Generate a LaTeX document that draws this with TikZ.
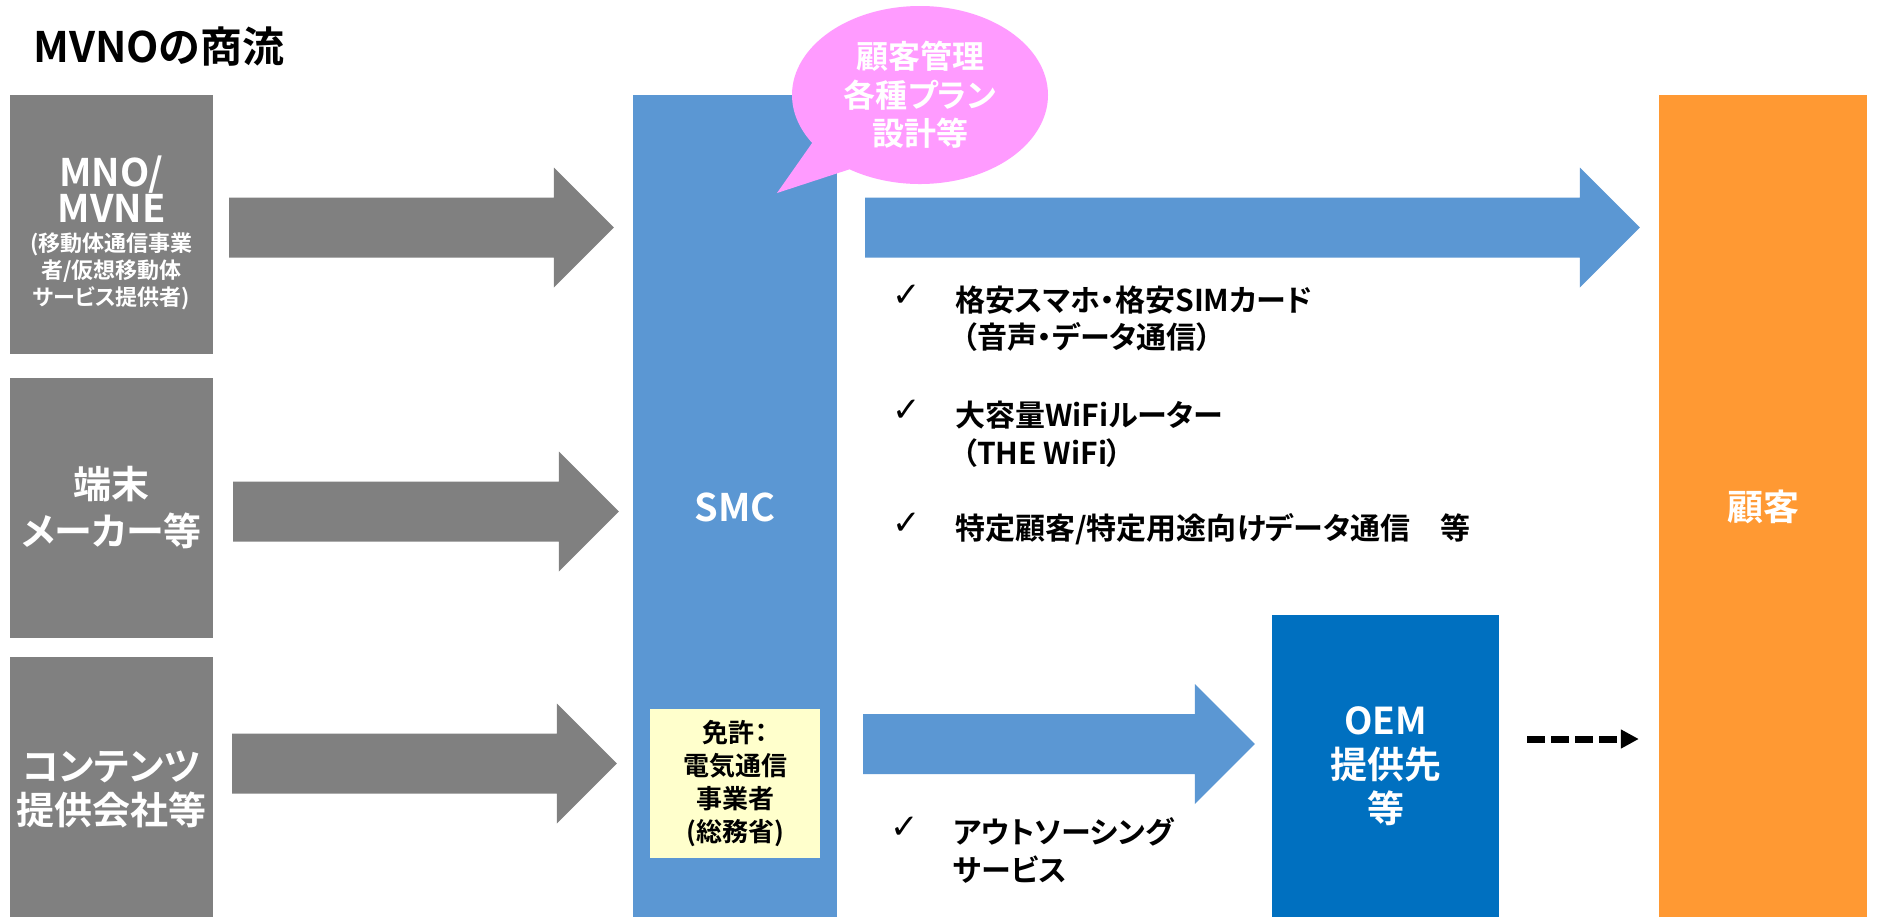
\documentclass[tikz,border=0pt]{standalone}
\usepackage{fontspec}
\setmainfont{Noto Sans CJK JP}[BoldFont={Noto Sans CJK JP Bold},RawFeature=+palt]
\newfontfamily\checkfont{DejaVu Sans}
\usetikzlibrary{calc,shapes.callouts,arrows.meta}

\definecolor{boxgray}{RGB}{128,128,128}
\definecolor{smcblue}{RGB}{91,151,211}
\definecolor{oemblue}{RGB}{0,112,192}
\definecolor{custorange}{RGB}{255,153,51}
\definecolor{bubblepink}{RGB}{255,155,255}
\definecolor{licyellow}{RGB}{255,255,204}

\newcommand{\jfs}[2]{\fontsize{#1}{#2}\selectfont\bfseries}
% block arrow: colour, start, tip (same height)
\newcommand{\fatarrow}[3]{%
  \fill[#1] ($(#2)+(0,-30)$) -- ($(#3)+(-60,-30)$) -- ($(#3)+(-60,-60)$) -- (#3)
    -- ($(#3)+(-60,60)$) -- ($(#3)+(-60,30)$) -- ($(#2)+(0,30)$) -- cycle;}

\tikzset{
  sidebox/.style={fill=boxgray, minimum width=203pt, inner sep=0pt, text=white, align=center},
  bar/.style={minimum height=824pt, inner sep=0pt, text=white, align=center},
  wtext/.style={inner sep=0pt, text=white, align=center},
  item/.style={anchor=base west, inner sep=0pt, font=\jfs{30}{37}},
  tick/.style={inner sep=0pt, font={\checkfont\fontsize{34}{34}\selectfont}},
  dasharrow/.style={line width=7pt, dash pattern=on 18pt off 6pt, -{Triangle[length=18pt,width=18pt]}}
}

\begin{document}
\begin{tikzpicture}[x=1pt, y=-1pt]
  \path[use as bounding box, fill=white] (0,0) rectangle (1877,916);

  \node[anchor=base west, inner sep=0pt, font=\jfs{42}{42}] (title) at (33,62) {MVNOの商流};

  % left side
  \node[sidebox, minimum height=259pt] (mno) at (111.5,224.5) {};
  \node[wtext, font=\jfs{38}{35}] (mnoname) at (111.5,189.5) {MNO/\\MVNE};
  \node[wtext, font=\jfs{22}{27}] (mnonote) at (111.5,271.5) {(移動体通信事業\\者/仮想移動体\\サービス提供者)};
  \node[sidebox, minimum height=260pt, font=\jfs{38}{47}] (maker) at (111.5,508) {端末\\メーカー等};
  \node[sidebox, minimum height=264pt, font=\jfs{38}{44}] (content) at (111.5,789) {コンテンツ\\提供会社等};

  % SMC and licence
  \node[bar, fill=smcblue, minimum width=204pt, font=\jfs{38}{44}] (smc) at (735,507) {SMC};
  \node[fill=licyellow, minimum width=170pt, minimum height=149pt, inner sep=0pt,
        align=center, font=\jfs{26}{33}] (lic) at (735,783.5) {免許：\\電気通信\\事業者\\(総務省)};
  \node[ellipse callout, fill=bubblepink, minimum width=256pt, minimum height=178pt, inner sep=0pt,
        callout absolute pointer={(777,193)}, callout pointer arc=24,
        text=white, align=center, font=\jfs{32}{38.5}] (bubble) at (920,95) {顧客管理\\各種プラン\\設計等};

  % right side
  \node[bar, fill=custorange, minimum width=208pt, font=\jfs{36}{40}] (cust) at (1763,507) {顧客};
  \node[fill=oemblue, minimum width=227pt, minimum height=302pt, inner sep=0pt, text=white,
        align=center, font=\jfs{37}{44}] (oem) at (1385.5,766) {OEM\\提供先\\等};

  % gray arrows into SMC
  \foreach \src/\dx/\dy/\dt in {mno/16/3/19, maker/20/3.5/14, content/19/-25.5/16} {
    \coordinate (\src0) at ($(\src.east)+(\dx,\dy)$);
    \coordinate (\src1) at ($(\src0 -| smc.west)+(-\dt,0)$);
    \fatarrow{boxgray}{\src0}{\src1}
  }

  % blue arrows out of SMC
  \coordinate (sale0) at ($(smc.east |- mno0)+(28,0)$);
  \coordinate (sale1) at ($(sale0 -| cust.west)+(-19,0)$);
  \fatarrow{smcblue}{sale0}{sale1}
  \coordinate (oem0) at ($(smc.east |- oem.center)+(26,-22)$);
  \coordinate (oem1) at ($(oem0 -| oem.west)+(-17,0)$);
  \fatarrow{smcblue}{oem0}{oem1}

  % dashed arrow OEM -> customer
  \coordinate (dash0) at ($(oem.east)+(28,-27)$);
  \coordinate (dash1) at ($(dash0 -| cust.west)+(-20,0)$);
  \draw[dasharrow] (dash0) -- (dash1);

  % service list
  \node[tick] (tick1) at (907,296) {✓};
  \node[item] (it1a) at (955,311) {格安スマホ・格安SIMカード};
  \node[item] (it1b) at (962,348) {（音声・データ通信）};
  \node[tick] (tick2) at (907,411) {✓};
  \node[item] (it2a) at (955,426) {大容量WiFiルーター};
  \node[item] (it2b) at (962,464) {（THE WiFi）};
  \node[tick] (tick3) at (907,524) {✓};
  \node[item] (it3) at (955,539) {特定顧客/特定用途向けデータ通信　等};
  \node[tick] (tick4) at (905,828) {✓};
  \node[item] (os1) at (953,843) {アウトソーシング};
  \node[item] (os2) at (953,881) {サービス};
\end{tikzpicture}
\end{document}
